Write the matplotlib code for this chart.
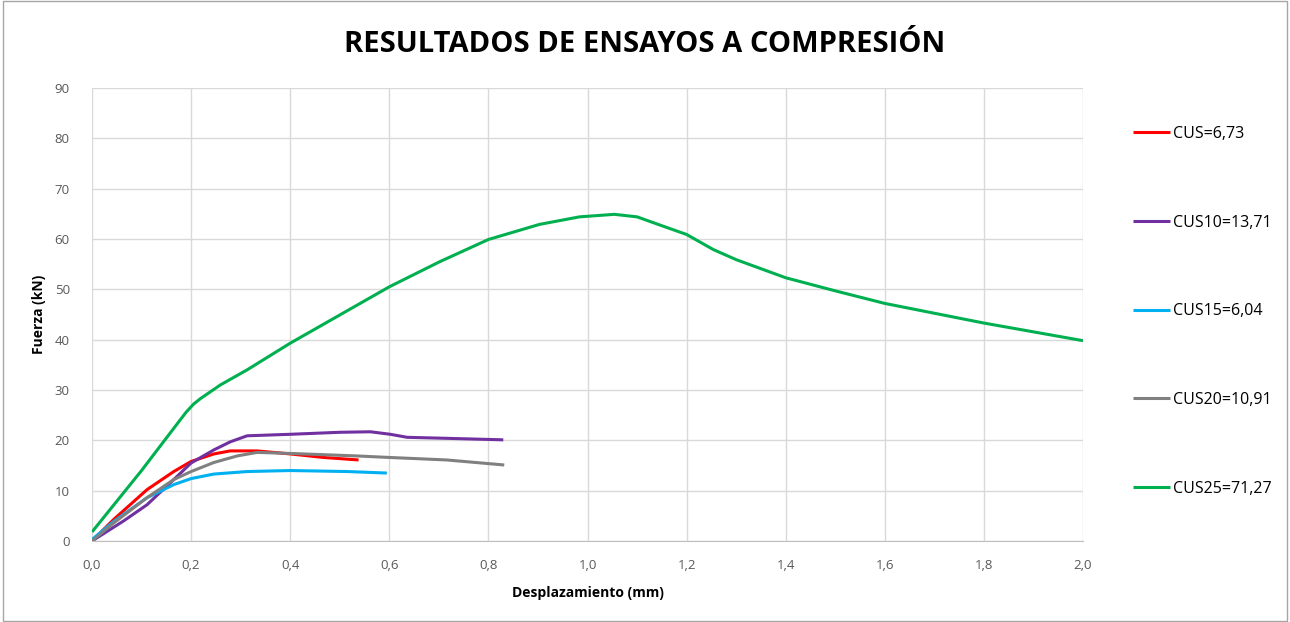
import matplotlib.pyplot as plt
from matplotlib.ticker import FuncFormatter, MultipleLocator

# (displacement mm, force kN)
cus_x = [0.0, 0.044, 0.111, 0.165, 0.2, 0.246, 0.279, 0.333, 0.4, 0.467, 0.538]
cus_y = [0.0, 4.3, 10.2, 13.8, 15.8, 17.3, 17.9, 17.9, 17.3, 16.6, 16.1]

cus10_x = [0.0, 0.064, 0.111, 0.165, 0.2, 0.246, 0.279, 0.313, 0.4, 0.5, 0.562, 0.602, 0.636, 0.716, 0.83]
cus10_y = [0.0, 4.0, 7.2, 12.2, 15.5, 18.1, 19.7, 20.9, 21.2, 21.6, 21.7, 21.2, 20.6, 20.4, 20.1]

cus15_x = [0.0, 0.044, 0.111, 0.165, 0.2, 0.246, 0.313, 0.4, 0.515, 0.595]
cus15_y = [0.3, 3.9, 8.6, 11.2, 12.4, 13.3, 13.8, 14.0, 13.8, 13.5]

cus20_x = [0.0, 0.044, 0.111, 0.165, 0.2, 0.246, 0.293, 0.333, 0.4, 0.534, 0.6, 0.716, 0.832]
cus20_y = [0.0, 3.6, 8.6, 12.2, 13.8, 15.6, 16.9, 17.6, 17.4, 16.9, 16.6, 16.1, 15.1]

cus25_x = [0.0, 0.1, 0.162, 0.19, 0.205, 0.219, 0.259, 0.313, 0.4, 0.5, 0.6, 0.702, 0.8, 0.903,
           0.984, 1.054, 1.1, 1.154, 1.2, 1.254, 1.3, 1.4, 1.5, 1.6, 1.8, 2.0]
cus25_y = [1.8, 14.0, 22.0, 25.6, 27.2, 28.3, 31.0, 34.0, 39.3, 44.9, 50.5, 55.5, 59.9, 62.9,
           64.4, 64.9, 64.4, 62.5, 60.9, 57.9, 55.9, 52.3, 49.7, 47.2, 43.3, 39.8]

labels = ["CUS=6,73", "CUS10=13,71", "CUS15=6,04", "CUS20=10,91", "CUS25=71,27"]
colors = ["#FF0000", "#7030A0", "#00B0F0", "#808080", "#00B050"]

plt.rcParams.update({"font.family": ["Open Sans", "DejaVu Sans"]})

fig = plt.figure(figsize=(12.9, 6.22), dpi=100)
ax = fig.add_axes([92 / 1290, 1 - 541 / 622, (1083 - 92) / 1290, (541 - 88) / 622])

series = [(cus_x, cus_y), (cus10_x, cus10_y), (cus15_x, cus15_y), (cus20_x, cus20_y), (cus25_x, cus25_y)]
for (xs, ys), lab, col in zip(series, labels, colors):
    ax.plot(xs, ys, color=col, linewidth=2.2, label=lab, solid_capstyle="butt")

ax.set_xlim(0, 2.0)
ax.set_ylim(0, 90)
ax.xaxis.set_major_locator(MultipleLocator(0.2))
ax.yaxis.set_major_locator(MultipleLocator(10))
ax.xaxis.set_major_formatter(FuncFormatter(lambda v, p: f"{v:.1f}".replace(".", ",")))
ax.grid(True, color="#d9d9d9", linewidth=1)
ax.set_axisbelow(True)
for s in ["top", "right", "left"]:
    ax.spines[s].set_visible(False)
ax.spines["bottom"].set_color("#bfbfbf")
ax.tick_params(length=0, labelsize=9.5, labelcolor="#595959")
ax.tick_params(axis="x", pad=13)
ax.tick_params(axis="y", pad=16)

ax.set_xlabel("Desplazamiento (mm)", fontsize=10, fontweight="bold", labelpad=10)
ax.set_ylabel("Fuerza (kN)", fontsize=10, fontweight="bold", labelpad=6)

fig.text(0.5, 1 - 45 / 622, "RESULTADOS DE ENSAYOS A COMPRESIÓN", ha="center", va="center",
         fontsize=21, fontweight="bold", color="black")

ax.legend(loc="upper left", bbox_to_anchor=(1125 / 1290, 1 - 118 / 622), bbox_transform=fig.transFigure,
          frameon=False, fontsize=11.5, labelspacing=4.55, handlelength=2.3, handletextpad=0.2,
          borderpad=0)

# thin outer border like the chart frame
fig.patches.append(plt.Rectangle((0.002, 0.002), 0.996, 0.996, transform=fig.transFigure,
                                 fill=False, edgecolor="#a6a6a6", linewidth=1))

fig.savefig("out.png", dpi=100)
